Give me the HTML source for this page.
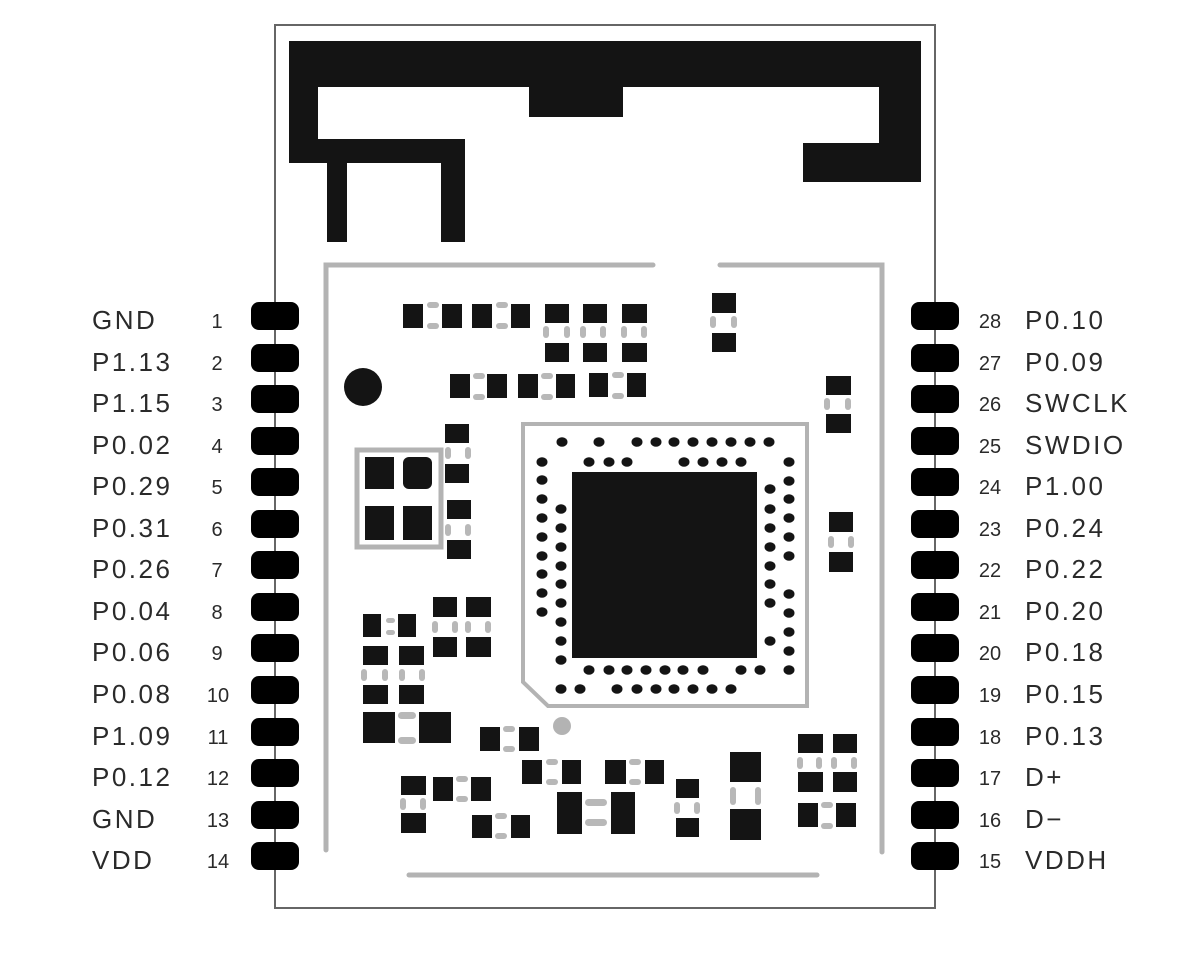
<!DOCTYPE html>
<html><head><meta charset="utf-8"><style>
html,body{margin:0;padding:0;background:#fff;}
svg{display:block;}
.lb{font-family:"Liberation Sans",sans-serif;font-size:26px;fill:#2a2a2a;letter-spacing:2.5px;}
.nm{font-family:"Liberation Sans",sans-serif;font-size:20px;fill:#2a2a2a;}
</style></head><body>
<svg width="1200" height="961" viewBox="0 0 1200 961" xmlns="http://www.w3.org/2000/svg">
<!-- outer frame -->
<rect x="275" y="25" width="660" height="883" fill="none" stroke="#666" stroke-width="2"/>
<!-- antenna -->
<g fill="#141414">
<rect x="289" y="41" width="632" height="46"/>
<rect x="289" y="41" width="29" height="122"/>
<rect x="289" y="139" width="176" height="24"/>
<rect x="327" y="139" width="20" height="103"/>
<rect x="441" y="139" width="24" height="103"/>
<rect x="529" y="41" width="94" height="76"/>
<rect x="879" y="41" width="42" height="141"/>
<rect x="803" y="143" width="118" height="39"/>
</g>
<!-- inner gray frame -->
<g stroke="#b3b3b3" stroke-width="5" fill="none" stroke-linecap="round">
<polyline points="326,850 326,265 653,265"/>
<polyline points="720,265 882,265 882,852"/>
<line x1="409" y1="875" x2="817" y2="875"/>
<rect x="357" y="450" width="84" height="97"/>
<polygon points="523,424 807,424 807,706 548,706 523,682" stroke-width="4"/>
</g>
<circle cx="562" cy="726" r="9" fill="#b3b3b3"/>
<circle cx="363" cy="387" r="19" fill="#141414"/>
<!-- components -->
<g fill="#141414">
<rect x="403" y="304" width="20" height="24"/><rect x="442" y="304" width="20" height="24"/>
<rect x="472" y="304" width="20" height="24"/><rect x="511" y="304" width="19" height="24"/>
<rect x="545" y="304" width="24" height="19"/><rect x="545" y="343" width="24" height="19"/>
<rect x="583" y="304" width="24" height="19"/><rect x="583" y="343" width="24" height="19"/>
<rect x="622" y="304" width="25" height="19"/><rect x="622" y="343" width="25" height="19"/>
<rect x="712" y="293" width="24" height="20"/><rect x="712" y="333" width="24" height="19"/>
<rect x="450" y="374" width="20" height="24"/><rect x="487" y="374" width="20" height="24"/>
<rect x="518" y="374" width="20" height="24"/><rect x="556" y="374" width="19" height="24"/>
<rect x="589" y="373" width="19" height="24"/><rect x="627" y="373" width="19" height="24"/>
<rect x="826" y="376" width="25" height="19"/><rect x="826" y="414" width="25" height="19"/>
<rect x="365" y="457" width="29" height="32"/><rect x="403" y="457" width="29" height="32" rx="6"/>
<rect x="365" y="506" width="29" height="34"/><rect x="403" y="506" width="29" height="34"/>
<rect x="445" y="424" width="24" height="19"/><rect x="445" y="464" width="24" height="19"/>
<rect x="447" y="500" width="24" height="19"/><rect x="447" y="540" width="24" height="19"/>
<rect x="829" y="512" width="24" height="20"/><rect x="829" y="552" width="24" height="20"/>
<!-- chip -->
<rect x="572" y="472" width="185" height="186"/>
<!-- lower left -->
<rect x="363" y="614" width="18" height="23"/><rect x="398" y="614" width="18" height="23"/>
<rect x="433" y="597" width="24" height="20"/><rect x="466" y="597" width="25" height="20"/>
<rect x="433" y="637" width="24" height="20"/><rect x="466" y="637" width="25" height="20"/>
<rect x="363" y="646" width="25" height="19"/><rect x="399" y="646" width="25" height="19"/>
<rect x="363" y="685" width="25" height="19"/><rect x="399" y="685" width="25" height="19"/>
<rect x="363" y="712" width="32" height="31"/><rect x="419" y="712" width="32" height="31"/>
<rect x="480" y="727" width="20" height="24"/><rect x="519" y="727" width="20" height="24"/>
<rect x="401" y="776" width="25" height="19"/><rect x="401" y="813" width="25" height="20"/>
<rect x="433" y="777" width="20" height="24"/><rect x="471" y="777" width="20" height="24"/>
<rect x="472" y="815" width="20" height="23"/><rect x="511" y="815" width="19" height="23"/>
<rect x="522" y="760" width="20" height="24"/><rect x="562" y="760" width="19" height="24"/>
<rect x="605" y="760" width="21" height="24"/><rect x="645" y="760" width="19" height="24"/>
<rect x="557" y="792" width="25" height="42"/><rect x="611" y="792" width="24" height="42"/>
<rect x="676" y="779" width="23" height="19"/><rect x="676" y="818" width="23" height="19"/>
<rect x="730" y="752" width="31" height="30"/><rect x="730" y="809" width="31" height="31"/>
<rect x="798" y="734" width="25" height="19"/><rect x="833" y="734" width="24" height="19"/>
<rect x="798" y="772" width="25" height="20"/><rect x="833" y="772" width="24" height="20"/>
<rect x="798" y="803" width="20" height="24"/><rect x="836" y="803" width="20" height="24"/>
</g>
<!-- gray ovals -->
<g fill="#b8b8b8">
<rect x="427" y="302" width="12" height="6" rx="3"/><rect x="427" y="323" width="12" height="6" rx="3"/>
<rect x="496" y="302" width="12" height="6" rx="3"/><rect x="496" y="323" width="12" height="6" rx="3"/>
<rect x="543" y="326" width="6" height="12" rx="3"/><rect x="564" y="326" width="6" height="12" rx="3"/>
<rect x="580" y="326" width="6" height="12" rx="3"/><rect x="600" y="326" width="6" height="12" rx="3"/>
<rect x="621" y="326" width="6" height="12" rx="3"/><rect x="641" y="326" width="6" height="12" rx="3"/>
<rect x="710" y="316" width="6" height="12" rx="3"/><rect x="731" y="316" width="6" height="12" rx="3"/>
<rect x="473" y="373" width="12" height="6" rx="3"/><rect x="473" y="394" width="12" height="6" rx="3"/>
<rect x="541" y="373" width="12" height="6" rx="3"/><rect x="541" y="394" width="12" height="6" rx="3"/>
<rect x="612" y="372" width="12" height="6" rx="3"/><rect x="612" y="393" width="12" height="6" rx="3"/>
<rect x="824" y="398" width="6" height="12" rx="3"/><rect x="845" y="398" width="6" height="12" rx="3"/>
<rect x="445" y="447" width="6" height="12" rx="3"/><rect x="465" y="447" width="6" height="12" rx="3"/>
<rect x="445" y="524" width="6" height="12" rx="3"/><rect x="465" y="524" width="6" height="12" rx="3"/>
<rect x="828" y="536" width="6" height="12" rx="3"/><rect x="848" y="536" width="6" height="12" rx="3"/>
<rect x="386" y="618" width="9" height="5" rx="2.5"/><rect x="386" y="630" width="9" height="5" rx="2.5"/>
<rect x="432" y="621" width="6" height="12" rx="3"/><rect x="452" y="621" width="6" height="12" rx="3"/>
<rect x="465" y="621" width="6" height="12" rx="3"/><rect x="485" y="621" width="6" height="12" rx="3"/>
<rect x="361" y="669" width="6" height="12" rx="3"/><rect x="382" y="669" width="6" height="12" rx="3"/>
<rect x="399" y="669" width="6" height="12" rx="3"/><rect x="419" y="669" width="6" height="12" rx="3"/>
<rect x="398" y="712" width="18" height="7" rx="3.5"/><rect x="398" y="737" width="18" height="7" rx="3.5"/>
<rect x="503" y="726" width="12" height="6" rx="3"/><rect x="503" y="746" width="12" height="6" rx="3"/>
<rect x="400" y="798" width="6" height="12" rx="3"/><rect x="420" y="798" width="6" height="12" rx="3"/>
<rect x="456" y="776" width="12" height="6" rx="3"/><rect x="456" y="796" width="12" height="6" rx="3"/>
<rect x="495" y="813" width="12" height="6" rx="3"/><rect x="495" y="833" width="12" height="6" rx="3"/>
<rect x="546" y="759" width="12" height="6" rx="3"/><rect x="546" y="779" width="12" height="6" rx="3"/>
<rect x="629" y="759" width="12" height="6" rx="3"/><rect x="629" y="779" width="12" height="6" rx="3"/>
<rect x="585" y="799" width="22" height="7" rx="3.5"/><rect x="585" y="819" width="22" height="7" rx="3.5"/>
<rect x="674" y="802" width="6" height="12" rx="3"/><rect x="694" y="802" width="6" height="12" rx="3"/>
<rect x="730" y="787" width="6" height="18" rx="3"/><rect x="755" y="787" width="6" height="18" rx="3"/>
<rect x="797" y="757" width="6" height="12" rx="3"/><rect x="816" y="757" width="6" height="12" rx="3"/>
<rect x="831" y="757" width="6" height="12" rx="3"/><rect x="851" y="757" width="6" height="12" rx="3"/>
<rect x="821" y="802" width="12" height="6" rx="3"/><rect x="821" y="823" width="12" height="6" rx="3"/>
</g>
<!-- chip dots -->
<g fill="#141414">
<g id="d">
<ellipse cx="562" cy="442" rx="5.5" ry="4.8"/><ellipse cx="599" cy="442" rx="5.5" ry="4.8"/><ellipse cx="637" cy="442" rx="5.5" ry="4.8"/><ellipse cx="656" cy="442" rx="5.5" ry="4.8"/><ellipse cx="674" cy="442" rx="5.5" ry="4.8"/><ellipse cx="693" cy="442" rx="5.5" ry="4.8"/><ellipse cx="712" cy="442" rx="5.5" ry="4.8"/><ellipse cx="731" cy="442" rx="5.5" ry="4.8"/><ellipse cx="750" cy="442" rx="5.5" ry="4.8"/><ellipse cx="769" cy="442" rx="5.5" ry="4.8"/>
<ellipse cx="589" cy="462" rx="5.5" ry="4.8"/><ellipse cx="609" cy="462" rx="5.5" ry="4.8"/><ellipse cx="627" cy="462" rx="5.5" ry="4.8"/><ellipse cx="684" cy="462" rx="5.5" ry="4.8"/><ellipse cx="703" cy="462" rx="5.5" ry="4.8"/><ellipse cx="722" cy="462" rx="5.5" ry="4.8"/><ellipse cx="741" cy="462" rx="5.5" ry="4.8"/>
<ellipse cx="542" cy="462" rx="5.5" ry="4.8"/><ellipse cx="542" cy="480" rx="5.5" ry="4.8"/><ellipse cx="542" cy="499" rx="5.5" ry="4.8"/><ellipse cx="542" cy="518" rx="5.5" ry="4.8"/><ellipse cx="542" cy="537" rx="5.5" ry="4.8"/><ellipse cx="542" cy="556" rx="5.5" ry="4.8"/><ellipse cx="542" cy="574" rx="5.5" ry="4.8"/><ellipse cx="542" cy="593" rx="5.5" ry="4.8"/><ellipse cx="542" cy="612" rx="5.5" ry="4.8"/>
<ellipse cx="561" cy="509" rx="5.5" ry="4.8"/><ellipse cx="561" cy="528" rx="5.5" ry="4.8"/><ellipse cx="561" cy="547" rx="5.5" ry="4.8"/><ellipse cx="561" cy="566" rx="5.5" ry="4.8"/><ellipse cx="561" cy="584" rx="5.5" ry="4.8"/><ellipse cx="561" cy="603" rx="5.5" ry="4.8"/><ellipse cx="561" cy="622" rx="5.5" ry="4.8"/><ellipse cx="561" cy="641" rx="5.5" ry="4.8"/><ellipse cx="561" cy="660" rx="5.5" ry="4.8"/>
<ellipse cx="770" cy="489" rx="5.5" ry="4.8"/><ellipse cx="770" cy="509" rx="5.5" ry="4.8"/><ellipse cx="770" cy="528" rx="5.5" ry="4.8"/><ellipse cx="770" cy="547" rx="5.5" ry="4.8"/><ellipse cx="770" cy="566" rx="5.5" ry="4.8"/><ellipse cx="770" cy="584" rx="5.5" ry="4.8"/><ellipse cx="770" cy="603" rx="5.5" ry="4.8"/><ellipse cx="770" cy="641" rx="5.5" ry="4.8"/>
<ellipse cx="789" cy="462" rx="5.5" ry="4.8"/><ellipse cx="789" cy="481" rx="5.5" ry="4.8"/><ellipse cx="789" cy="499" rx="5.5" ry="4.8"/><ellipse cx="789" cy="518" rx="5.5" ry="4.8"/><ellipse cx="789" cy="537" rx="5.5" ry="4.8"/><ellipse cx="789" cy="556" rx="5.5" ry="4.8"/><ellipse cx="789" cy="594" rx="5.5" ry="4.8"/><ellipse cx="789" cy="613" rx="5.5" ry="4.8"/><ellipse cx="789" cy="632" rx="5.5" ry="4.8"/><ellipse cx="789" cy="651" rx="5.5" ry="4.8"/><ellipse cx="789" cy="670" rx="5.5" ry="4.8"/>
<ellipse cx="589" cy="670" rx="5.5" ry="4.8"/><ellipse cx="609" cy="670" rx="5.5" ry="4.8"/><ellipse cx="627" cy="670" rx="5.5" ry="4.8"/><ellipse cx="646" cy="670" rx="5.5" ry="4.8"/><ellipse cx="665" cy="670" rx="5.5" ry="4.8"/><ellipse cx="683" cy="670" rx="5.5" ry="4.8"/><ellipse cx="703" cy="670" rx="5.5" ry="4.8"/><ellipse cx="741" cy="670" rx="5.5" ry="4.8"/><ellipse cx="760" cy="670" rx="5.5" ry="4.8"/>
<ellipse cx="561" cy="689" rx="5.5" ry="4.8"/><ellipse cx="580" cy="689" rx="5.5" ry="4.8"/><ellipse cx="617" cy="689" rx="5.5" ry="4.8"/><ellipse cx="637" cy="689" rx="5.5" ry="4.8"/><ellipse cx="656" cy="689" rx="5.5" ry="4.8"/><ellipse cx="674" cy="689" rx="5.5" ry="4.8"/><ellipse cx="693" cy="689" rx="5.5" ry="4.8"/><ellipse cx="712" cy="689" rx="5.5" ry="4.8"/><ellipse cx="731" cy="689" rx="5.5" ry="4.8"/>
</g>
</g>
<!-- pins -->
<g fill="#000">
<rect x="251" y="302" width="48" height="28" rx="8"/><rect x="251" y="344" width="48" height="28" rx="8"/><rect x="251" y="385" width="48" height="28" rx="8"/><rect x="251" y="427" width="48" height="28" rx="8"/><rect x="251" y="468" width="48" height="28" rx="8"/><rect x="251" y="510" width="48" height="28" rx="8"/><rect x="251" y="551" width="48" height="28" rx="8"/><rect x="251" y="593" width="48" height="28" rx="8"/><rect x="251" y="634" width="48" height="28" rx="8"/><rect x="251" y="676" width="48" height="28" rx="8"/><rect x="251" y="718" width="48" height="28" rx="8"/><rect x="251" y="759" width="48" height="28" rx="8"/><rect x="251" y="801" width="48" height="28" rx="8"/><rect x="251" y="842" width="48" height="28" rx="8"/>
<rect x="911" y="302" width="48" height="28" rx="8"/><rect x="911" y="344" width="48" height="28" rx="8"/><rect x="911" y="385" width="48" height="28" rx="8"/><rect x="911" y="427" width="48" height="28" rx="8"/><rect x="911" y="468" width="48" height="28" rx="8"/><rect x="911" y="510" width="48" height="28" rx="8"/><rect x="911" y="551" width="48" height="28" rx="8"/><rect x="911" y="593" width="48" height="28" rx="8"/><rect x="911" y="634" width="48" height="28" rx="8"/><rect x="911" y="676" width="48" height="28" rx="8"/><rect x="911" y="718" width="48" height="28" rx="8"/><rect x="911" y="759" width="48" height="28" rx="8"/><rect x="911" y="801" width="48" height="28" rx="8"/><rect x="911" y="842" width="48" height="28" rx="8"/>
</g>
<!-- left labels -->
<g class="lb">
<text x="92" y="329">GND</text><text x="92" y="371">P1.13</text><text x="92" y="412">P1.15</text><text x="92" y="454">P0.02</text><text x="92" y="495">P0.29</text><text x="92" y="537">P0.31</text><text x="92" y="578">P0.26</text><text x="92" y="620">P0.04</text><text x="92" y="661">P0.06</text><text x="92" y="703">P0.08</text><text x="92" y="745">P1.09</text><text x="92" y="786">P0.12</text><text x="92" y="828">GND</text><text x="92" y="869">VDD</text>
</g>
<g class="nm" text-anchor="middle">
<text x="217" y="328">1</text><text x="217" y="370">2</text><text x="217" y="411">3</text><text x="217" y="453">4</text><text x="217" y="494">5</text><text x="217" y="536">6</text><text x="217" y="577">7</text><text x="217" y="619">8</text><text x="217" y="660">9</text><text x="218" y="702">10</text><text x="218" y="744">11</text><text x="218" y="785">12</text><text x="218" y="827">13</text><text x="218" y="868">14</text>
<text x="990" y="328">28</text><text x="990" y="370">27</text><text x="990" y="411">26</text><text x="990" y="453">25</text><text x="990" y="494">24</text><text x="990" y="536">23</text><text x="990" y="577">22</text><text x="990" y="619">21</text><text x="990" y="660">20</text><text x="990" y="702">19</text><text x="990" y="744">18</text><text x="990" y="785">17</text><text x="990" y="827">16</text><text x="990" y="868">15</text>
</g>
<g class="lb">
<text x="1025" y="329">P0.10</text><text x="1025" y="371">P0.09</text><text x="1025" y="412">SWCLK</text><text x="1025" y="454">SWDIO</text><text x="1025" y="495">P1.00</text><text x="1025" y="537">P0.24</text><text x="1025" y="578">P0.22</text><text x="1025" y="620">P0.20</text><text x="1025" y="661">P0.18</text><text x="1025" y="703">P0.15</text><text x="1025" y="745">P0.13</text><text x="1025" y="786">D+</text><text x="1025" y="828">D−</text><text x="1025" y="869">VDDH</text>
</g>
</svg>
</body></html>
